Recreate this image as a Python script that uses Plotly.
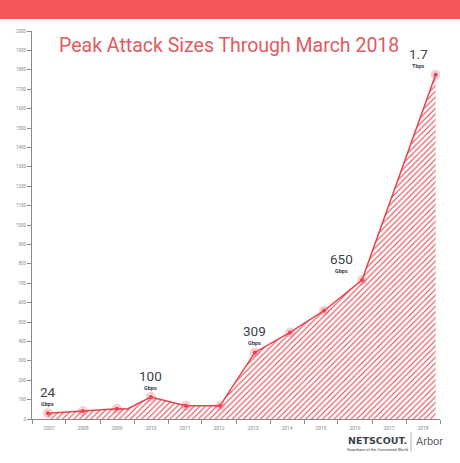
import plotly.graph_objects as go

# peak attack sizes (Gbps) as drawn on the chart
peak_dates = ["2007-06-20", "2008-07-01", "2009-07-01", "2010-07-01", "2011-07-12", "2012-07-12",
              "2013-07-22", "2014-08-04", "2015-08-04", "2016-09-15", "2018-11-15"]
peak_gbps = [29, 41, 53, 113, 68, 68, 343, 446, 558, 716, 1775]
# the line bends once between 2009 and 2010 without a marker
bend_date = "2009-10-22"
bend_gbps = 52

# callouts
label_idx = [0, 3, 6, 9, 10]
label_big = ["24", "100", "309", "650", "1.7"]
label_unit = ["Gbps", "Gbps", "Gbps", "Gbps", "Tbps"]
label_dx = [0, 0, 0, -20, -17]

red = "#e8434c"
grey = "#8a8a8a"
dark = "#3b424d"

line_x = peak_dates[:3] + [bend_date] + peak_dates[3:]
line_y = peak_gbps[:3] + [bend_gbps] + peak_gbps[3:]

fig = go.Figure()

# hatched area + line
fig.add_trace(go.Scatter(
    x=line_x, y=line_y, mode="lines", fill="tozeroy",
    line=dict(color=red, width=1.5),
    fillpattern=dict(shape="/", fgcolor=red, fgopacity=1, bgcolor="white", size=4, solidity=0.28),
    hoverinfo="skip"))

# pink halo + red dot
fig.add_trace(go.Scatter(x=peak_dates, y=peak_gbps, mode="markers",
                         marker=dict(color="rgba(232,67,76,0.25)", size=10)))
fig.add_trace(go.Scatter(x=peak_dates, y=peak_gbps, mode="markers",
                         marker=dict(color=red, size=4)))

fig.update_layout(
    width=460, height=463,
    margin=dict(l=32, r=20, t=31, b=44),
    paper_bgcolor="white", plot_bgcolor="white",
    showlegend=False,
    xaxis=dict(type="date", range=["2007-01-01", "2019-01-01"], tick0="2007-01-01", dtick="M12",
               tickformat="%Y", ticklabelmode="period", ticks="outside", ticklen=4,
               tickcolor=grey, showline=True, linecolor=grey, linewidth=1, showgrid=False,
               zeroline=False, tickfont=dict(family="Roboto", size=5, color=grey)),
    yaxis=dict(range=[0, 2000], dtick=100, ticks="outside", ticklen=4, tickcolor=grey,
               showline=True, linecolor=grey, linewidth=1, showgrid=False, zeroline=False,
               tickfont=dict(family="Roboto", size=4.5, color=grey)),
    shapes=[dict(type="rect", xref="paper", yref="paper", x0=-0.2, x1=1.2, y0=1.031, y1=1.1,
                 fillcolor="#f45658", line_width=0, layer="above"),
            dict(type="line", xref="paper", yref="paper", x0=0.929, x1=0.929, y0=-0.034, y1=-0.085,
                 line=dict(color="#9a9a9a", width=0.8))],
)

fig.add_annotation(text="Peak Attack Sizes Through March 2018", xref="paper", yref="paper",
                   x=0.484, y=0.998, xanchor="center", showarrow=False,
                   font=dict(family="Roboto", size=19.5, color="#e35a60"))
fig.add_annotation(text="<b>NETSCOUT.</b>", xref="paper", yref="paper", x=0.848, y=-0.055,
                   xanchor="center", yanchor="middle", showarrow=False,
                   font=dict(family="DejaVu Sans", size=9.5, color=dark))
fig.add_annotation(text="Guardians of the Connected World", xref="paper", yref="paper", x=0.846,
                   y=-0.078, xanchor="center", yanchor="middle", showarrow=False,
                   font=dict(family="Roboto", size=4, color=dark))
fig.add_annotation(text="Arbor", xref="paper", yref="paper", x=0.975, y=-0.059,
                   xanchor="center", yanchor="middle", showarrow=False,
                   font=dict(family="Roboto", size=11, color="#5a5f66"))

for i, big, unit, dx in zip(label_idx, label_big, label_unit, label_dx):
    fig.add_annotation(x=peak_dates[i], y=peak_gbps[i], text=big, showarrow=False,
                       xshift=dx, yshift=21, font=dict(family="Roboto", size=13.5, color=dark))
    fig.add_annotation(x=peak_dates[i], y=peak_gbps[i], text="<b>" + unit + "</b>", showarrow=False,
                       xshift=dx, yshift=9, font=dict(family="Roboto", size=5.5, color=dark))

fig.write_html("out.html", config={"displayModeBar": False},
               post_script="document.body.style.margin='0';")
